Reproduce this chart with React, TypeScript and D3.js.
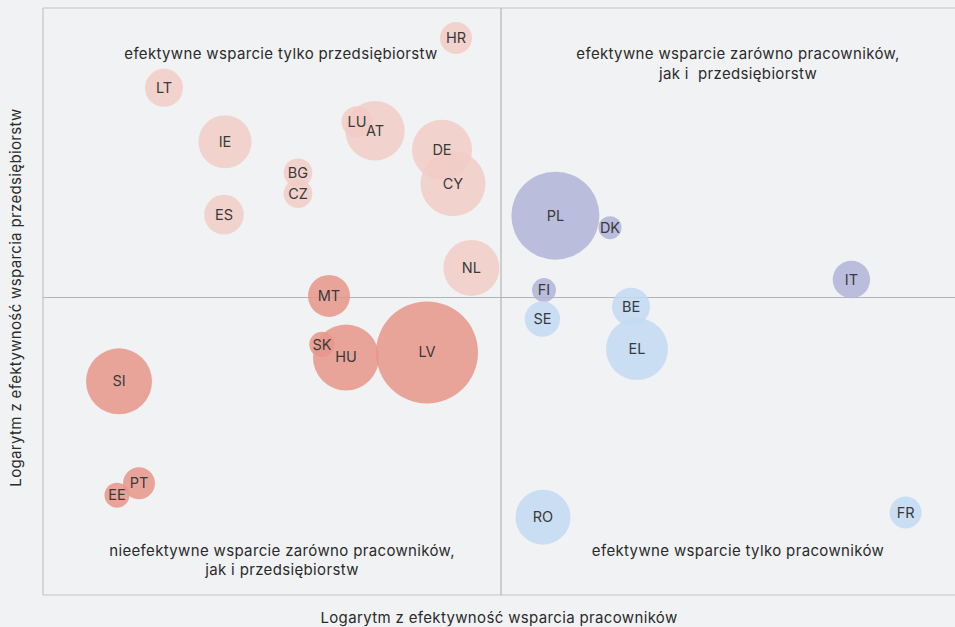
import React from "react";
import { scaleLinear } from "d3";

// country codes, log effectiveness (workers = x, firms = y), bubble size, group
const countries = ["HR", "LT", "IE", "LU", "AT", "DE", "CY", "BG", "CZ", "ES", "NL", "MT", "SK", "HU", "LV", "SI", "PT", "EE", "PL", "DK", "IT", "FI", "SE", "BE", "EL", "RO", "FR"];
const workerEff = [-0.225, -1.685, -1.38, -0.72, -0.63, -0.295, -0.24, -1.015, -1.015, -1.385, -0.148, -0.86, -0.895, -0.775, -0.37, -1.91, -1.81, -1.92, 0.272, 0.545, 1.752, 0.215, 0.207, 0.65, 0.68, 0.21, 2.023];
const firmEff = [1.30, 1.05, 0.78, 0.88, 0.835, 0.74, 0.57, 0.625, 0.52, 0.415, 0.148, 0.008, -0.235, -0.30, -0.275, -0.42, -0.93, -0.99, 0.41, 0.35, 0.09, 0.037, -0.108, -0.046, -0.258, -1.10, -1.077];
const bubbleSize = [16, 19, 26.5, 15.5, 29.7, 30, 32.5, 14.3, 14.3, 19.8, 28, 21, 12.7, 33, 51, 33, 16, 12.5, 44, 11.5, 18.7, 12, 17.7, 19, 31, 27.5, 16];
const quadrant = ["firms", "firms", "firms", "firms", "firms", "firms", "firms", "firms", "firms", "firms", "firms", "none", "none", "none", "none", "none", "none", "none", "both", "both", "both", "both", "workers", "workers", "workers", "workers", "workers"];

const quadrantColors: Record<string, string> = {
  firms: "#f2cdc5",
  none: "#e8968a",
  both: "#b0b4d7",
  workers: "#c2dbf2",
};

const W = 955;
const H = 627;
const font = "Inter, 'Noto Sans', sans-serif";

export default function App() {
  const left = 43, right = 955, top = 8, bottom = 595;
  const x = scaleLinear().domain([-2.29, 2.27]).range([left, right]);
  const y = scaleLinear().domain([-1.49, 1.45]).range([bottom, top]);
  const r = scaleLinear().domain([0, 1]).range([0, 1]);

  const data = countries.map((c, i) => ({
    code: c,
    wx: workerEff[i],
    fy: firmEff[i],
    size: bubbleSize[i],
    q: quadrant[i],
  }));

  const qText = {
    fontFamily: font,
    fontSize: 15,
    letterSpacing: 0.35,
    fill: "#2b2b2b",
    textAnchor: "middle" as const,
    style: { whiteSpace: "pre" as const },
  };

  return (
    <svg width={W} height={H} style={{ position: "absolute", left: 0, top: 0 }}>
      <rect x={0} y={0} width={W} height={H} fill="#f1f2f4" />
      <g stroke="#c4c4c4" strokeWidth={1.2} fill="none">
        <line x1={left} x2={right} y1={top} y2={top} />
        <line x1={left} x2={right} y1={bottom} y2={bottom} />
        <line x1={left} x2={left} y1={top} y2={bottom} />
      </g>
      <g stroke="#b4b4b4" strokeWidth={1.2}>
        <line x1={x(0)} x2={x(0)} y1={top} y2={bottom} />
        <line x1={left} x2={right} y1={y(0)} y2={y(0)} />
      </g>
      <g>
        {data.map((d) => (
          <circle key={d.code} cx={x(d.wx)} cy={y(d.fy)} r={r(d.size)} fill={quadrantColors[d.q]} opacity={0.85} />
        ))}
      </g>
      <g>
        {data.map((d) => (
          <text key={d.code} x={x(d.wx)} y={y(d.fy)} dy="0.35em" textAnchor="middle" fontFamily={font} fontSize={14.5} fill="#3a3a3a">
            {d.code}
          </text>
        ))}
      </g>
      <text x={281} y={59} {...qText}>efektywne wsparcie tylko przedsiębiorstw</text>
      <text x={738} y={59} {...qText}>efektywne wsparcie zarówno pracowników,</text>
      <text x={738} y={79} {...qText}>jak i  przedsiębiorstw</text>
      <text x={282} y={556} {...qText}>nieefektywne wsparcie zarówno pracowników,</text>
      <text x={282} y={575} {...qText}>jak i przedsiębiorstw</text>
      <text x={738} y={556} {...qText}>efektywne wsparcie tylko pracowników</text>
      <text x={499} y={623} {...qText}>Logarytm z efektywność wsparcia pracowników</text>
      <text transform={`translate(21,${y(0)}) rotate(-90)`} {...qText}>Logarytm z efektywność wsparcia przedsiębiorstw</text>
    </svg>
  );
}
